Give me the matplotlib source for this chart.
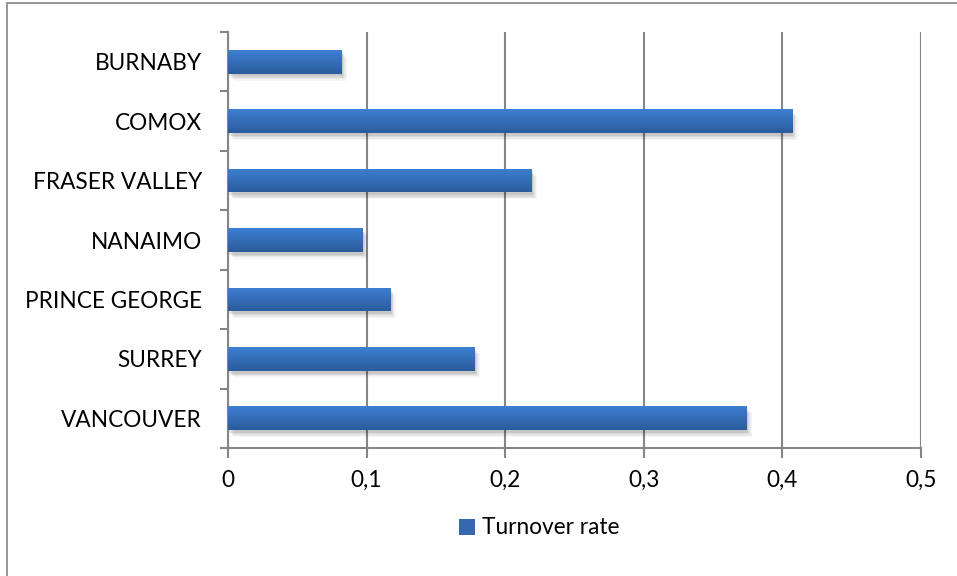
import numpy as np
import matplotlib.pyplot as plt
from matplotlib.patches import Rectangle
from matplotlib.colors import LinearSegmentedColormap
import matplotlib.patheffects as pe

plt.rcParams['font.family'] = ['Lato', 'DejaVu Sans']

# Turnover rate by region
categories = ['BURNABY', 'COMOX', 'FRASER VALLEY', 'NANAIMO',
              'PRINCE GEORGE', 'SURREY', 'VANCOUVER']
turnover = [0.082, 0.407, 0.219, 0.097, 0.117, 0.178, 0.374]
x_ticks = [0, 0.1, 0.2, 0.3, 0.4, 0.5]
x_labels = ['0', '0,1', '0,2', '0,3', '0,4', '0,5']
series_name = 'Turnover rate'

grid_col = '#868686'
bar_top = '#3d7fd2'
bar_bottom = '#2b5c9b'
fs = 16.3

fig = plt.figure(figsize=(9.57, 5.76), dpi=100)
ax = fig.add_axes([228 / 957, 1 - 448 / 576, (921 - 228) / 957, (448 - 32) / 576])

# outer chart border (only top and left edges visible)
fig.add_artist(Rectangle((7 / 957, -0.1), 1.2, 1 - 3 / 576 + 0.1,
                         transform=fig.transFigure, fill=False,
                         edgecolor='#8c8c8c', linewidth=1.3))

y = np.arange(len(categories))
shadow = [pe.SimplePatchShadow(offset=(o, -o - 1), shadow_rgbFace='black', alpha=a)
          for o, a in [(4, 0.035), (3, 0.05), (2, 0.07), (1, 0.08)]]
bars = ax.barh(y, turnover, height=0.4, color=bar_bottom, zorder=3,
               path_effects=shadow + [pe.Normal()])

cmap = LinearSegmentedColormap.from_list('bar', [bar_top, bar_bottom])
grad = np.linspace(0, 1, 64).reshape(-1, 1)
for b in bars:
    x0, y0 = b.get_x(), b.get_y()
    w, h = b.get_width(), b.get_height()
    im = ax.imshow(grad, cmap=cmap, aspect='auto', zorder=4,
                   extent=[x0, x0 + w, y0 + h, y0], origin='upper')
    im.set_clip_path(b)

ax.set_xlim(0, 0.5)
ax.set_ylim(len(categories) - 0.5, -0.5)

ax.set_xticks(x_ticks)
ax.set_xticklabels(x_labels)
ax.set_yticks(y)
ax.set_yticklabels(categories)
ax.set_yticks(np.arange(-0.5, len(categories)), minor=True)

ax.grid(axis='x', color=grid_col, linewidth=1.5, zorder=1)
ax.set_axisbelow(True)
for s in ['top', 'right']:
    ax.spines[s].set_visible(False)
for s in ['left', 'bottom']:
    ax.spines[s].set_color(grid_col)
    ax.spines[s].set_linewidth(1.5)

ax.tick_params(axis='x', length=7, width=1.5, color=grid_col,
               labelsize=fs, pad=9)
ax.tick_params(axis='y', which='major', length=0, labelsize=fs, pad=18.7)
ax.tick_params(axis='y', which='minor', length=6, width=1.5, color=grid_col)

handle = Rectangle((0, 0), 1, 1, facecolor='#3468b0')
fig.legend([handle], [series_name], loc='center', frameon=False,
           bbox_to_anchor=(539 / 957, 1 - 528 / 576), fontsize=fs,
           handlelength=0.7, handleheight=0.7, handletextpad=0.3)

fig.savefig('out.png', dpi=100, facecolor='white')
